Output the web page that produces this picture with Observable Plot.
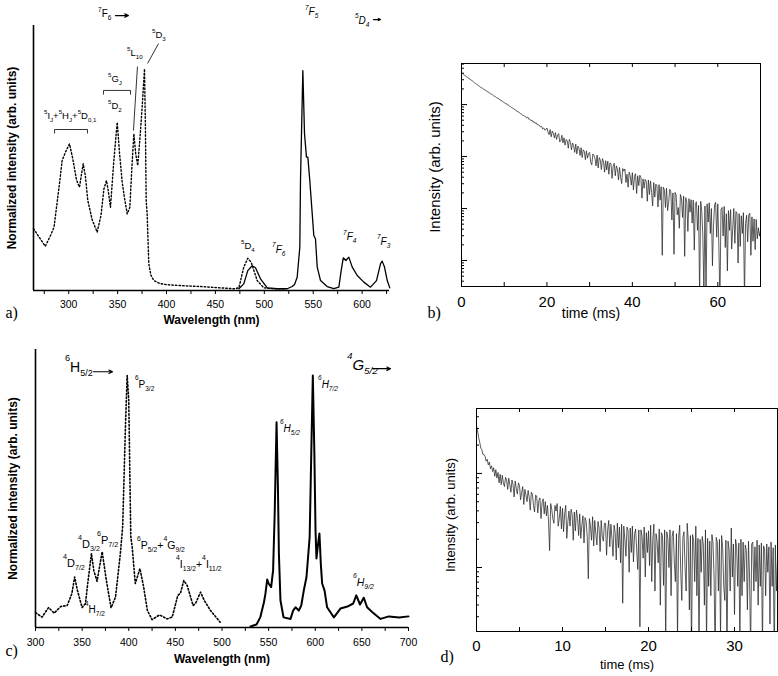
<!DOCTYPE html>
<html><head><meta charset="utf-8">
<script src="https://cdn.jsdelivr.net/npm/d3@7"></script>
<script src="https://cdn.jsdelivr.net/npm/@observablehq/plot@0.6"></script>
<style>
html,body{margin:0;padding:0;background:#fff;}
#wrap{position:relative;width:778px;height:676px;overflow:hidden;background:#fff;}
#wrap > svg{position:absolute;overflow:visible;}
</style></head><body><div id="wrap"></div>
<script>
// ---------- Panel a: Tb excitation (dotted) and emission (solid) ----------
const aExc = [[264,0.28],[270,0.24],[276,0.20],[281,0.245],[285,0.287],[291,0.50],[293.3,0.589],[297,0.63],[300.8,0.664],[304,0.60],[308,0.50],[311,0.468],[314.8,0.574],[317,0.52],[319.5,0.408],[324,0.32],[329.1,0.264],[333,0.34],[336,0.46],[338.6,0.498],[340.5,0.45],[342.7,0.377],[346,0.58],[349.6,0.762],[352,0.62],[354.7,0.49],[357,0.42],[359.8,0.347],[362.5,0.377],[364.5,0.55],[366.6,0.71],[368.5,0.62],[370.6,0.566],[373,0.70],[375.1,0.83],[377.5,1.004],[378.4,0.75],[379.2,0.408],[380.2,0.347],[381.9,0.121],[384,0.07],[387,0.045],[393,0.032],[400.7,0.026],[420,0.021],[434.8,0.018],[455,0.012],[468.8,0.008],[474,0.012],[479,0.106],[483.1,0.146],[486.6,0.128],[492.7,0.045],[499.5,0.012],[510,0.008],[520,0.008]];
const aEm = [[474,0.008],[479,0.03],[483.1,0.09],[487.6,0.112],[491,0.103],[496.1,0.053],[503,0.012],[513.2,0.008],[523.4,0.008],[528.5,0.018],[530.9,0.027],[533.6,0.06],[536.3,0.196],[537,0.498],[539.4,0.996],[541.1,0.71],[543.1,0.604],[544.5,0.604],[546.5,0.498],[549,0.347],[550.6,0.249],[552.3,0.234],[554.1,0.106],[557.5,0.045],[564.3,0.018],[571.1,0.008],[576.2,0.015],[578.6,0.09],[580.7,0.148],[583.4,0.136],[586.4,0.151],[589.9,0.106],[595,0.068],[601.7,0.038],[608.6,0.015],[614.7,0.045],[618.8,0.121],[620.5,0.133],[622.9,0.106],[625.7,0.045],[628.3,0.012]];
const aTicks = [275,300,325,350,375,400,425,450,475,500,525,550,575,600,625];
const aTickLabels = [300,350,400,450,500,550,600];

// ---------- Panel c: Sm excitation (dotted) and emission (solid) ----------
const cExc = [[300,0.059],[307,0.041],[314,0.079],[320,0.057],[327,0.083],[334,0.087],[339,0.134],[342,0.20],[345,0.146],[350,0.079],[353.6,0.095],[356,0.174],[360,0.293],[362.5,0.226],[366,0.183],[371.5,0.30],[376,0.186],[381,0.078],[385.8,0.12],[391,0.293],[393.5,0.40],[396.5,0.80],[398.3,0.997],[400,0.90],[401.2,0.60],[402.2,0.36],[403.7,0.318],[407,0.174],[412,0.233],[416,0.16],[420,0.067],[425,0.031],[433,0.05],[441,0.034],[446.6,0.041],[452.6,0.127],[455.5,0.136],[459,0.186],[462.7,0.166],[469,0.087],[471.6,0.095],[477,0.14],[481,0.107],[487.7,0.067],[498,0.021]];
const cEm = [[530.6,0.004],[537,0.012],[541,0.04],[545,0.10],[546.6,0.134],[548.5,0.19],[550,0.174],[552.7,0.16],[554.8,0.226],[556.5,0.45],[558.5,0.812],[560,0.55],[561,0.293],[562.7,0.107],[566,0.04],[573.5,0.034],[576.3,0.067],[578.8,0.08],[582.4,0.067],[585,0.087],[587.7,0.146],[590.6,0.20],[594,0.357],[595.8,0.70],[597.4,0.997],[599,0.70],[600.3,0.384],[601.3,0.273],[603,0.33],[604.5,0.372],[606,0.25],[607.4,0.174],[610,0.146],[612.7,0.08],[620,0.04],[627,0.075],[634.5,0.083],[640.7,0.095],[644,0.127],[648,0.091],[652,0.118],[655.6,0.08],[661,0.061],[670,0.034],[679,0.044],[690,0.04],[700,0.044]];
const cTicks = [300,325,350,375,400,425,450,475,500,525,550,575,600,625,650,675,700];
const cTickLabels = [300,350,400,450,500,550,600,650,700];

// ---------- Panel b: decay, log10 intensity every 0.25 ms ----------
const bStep = 0.25;
const bLog = [
4.61,4.60,4.58,4.56, 4.55,4.53,4.52,4.50, 4.49,4.47,4.46,4.44, 4.42,4.41,4.39,4.38, 4.36,4.35,4.33,4.32,
4.31,4.29,4.28,4.27, 4.25,4.24,4.23,4.21, 4.20,4.19,4.17,4.16, 4.15,4.13,4.12,4.11, 4.09,4.08,4.07,4.05,
4.04,4.02,4.02,3.99, 3.99,3.97,3.96,3.94, 3.93,3.92,3.90,3.89, 3.87,3.86,3.85,3.83, 3.82,3.80,3.79,3.78,
3.77,3.74,3.76,3.72, 3.72,3.69,3.70,3.66, 3.67,3.64,3.65,3.61, 3.61,3.60,3.57,3.58, 3.53,3.55,3.51,3.52,
3.55,3.47,3.42,3.52, 3.38,3.49,3.45,3.36, 3.46,3.33,3.41,3.44, 3.28,3.30,3.41,3.26, 3.36,3.22,3.33,3.31,
3.16,3.33,3.27,3.13, 3.26,3.21,3.08,3.24, 3.05,3.20,3.16,3.02, 3.17,2.98,3.13,3.10, 2.94,3.11,2.97,3.06,
3.08,2.89,2.84,3.05, 3.02,2.97,2.82,3.03, 2.78,2.98,2.93,2.75, 2.96,2.90,2.70,2.92, 2.74,2.91,2.66,2.88,
2.86,2.58,2.81,2.87, 2.63,2.82,2.76,2.55, 2.79,2.60,2.48,2.77, 2.72,2.76,2.50,2.66, 2.41,2.70,2.63,2.45,
2.69,2.36,2.62,2.67, 2.29,2.63,2.44,2.64, 2.60,2.20,2.57,2.39, 2.56,2.52,2.14,2.55, 2.27,2.53,2.31,2.05,
2.50,2.22,2.47,2.44, 2.03,2.46,2.16,2.42, 1.10,2.41,2.36,2.02, 2.39,1.96,2.12,2.37, 2.33,1.78,2.30,1.12,
2.31,2.26,1.88,2.02, 1.62,2.27,2.20,1.83, 2.24,1.08,2.21,2.12, 1.56,2.19,1.93,2.17, 1.72,2.16,1.20,2.10,
2.13,1.58,2.06,0.30, 2.14,1.95,1.48,0.35, 2.05,0.40,2.09,1.74, 2.11,1.52,2.00,0.90, 1.66,2.07,2.12,1.45,
2.09,1.30,0.20,1.98, 2.02,1.47,2.04,1.25, 1.90,0.80,1.96,1.58, 1.98,1.22,1.62,2.00, 1.33,1.94,1.91,0.95,
1.90,1.27,1.86,1.52, 1.92,0.25,1.71,1.87, 1.36,1.88,1.91,1.10, 1.84,1.37,1.80,1.21, 1.79,1.42,1.63,1.47,
1.58];
const bTimeTicks = [0,10,20,30,40,50,60,70];
const bTimeLabels = [0,20,40,60];
const bMajor = [10,100,1000,10000];
const bMinor = [4,5,6,7,8,9,20,30,40,50,60,70,80,90,200,300,400,500,600,700,800,900,2000,3000,4000,5000,6000,7000,8000,9000,20000,30000,40000,50000,60000];

// ---------- Panel d: decay, log10 intensity every 0.125 ms ----------
const dStep = 0.125;
const dLog = [
3.51,3.45,3.38,3.33,3.27,3.25,3.20,3.20,
3.18,3.13,3.15,3.09,3.12,3.05,3.08,3.02,
3.06,2.97,3.04,2.95,3.01,2.90,2.99,2.88,
2.98,2.90,2.86,2.96,2.93,2.83,2.95,2.88,
2.80,2.93,2.88,2.75,2.92,2.84,2.78,2.90,
2.87,2.72,2.80,2.86,2.67,2.83,2.77,2.70,
2.82,2.75,2.61,2.80,2.78,2.66,2.59,2.77,
2.76,2.58,2.71,2.74,2.52,2.69,2.73,2.57,
2.70,2.55,2.66,2.49,2.18,2.68,2.62,2.52,
2.47,2.66,2.60,2.68,2.44,2.52,2.65,2.41,
2.63,2.38,2.57,2.66,2.31,2.49,2.60,2.44,
2.62,2.56,2.29,2.59,2.39,2.61,2.52,2.34,
2.57,2.31,2.45,2.55,2.26,2.53,2.49,2.33,
1.88,2.52,2.44,2.29,2.54,2.23,2.50,2.36,
2.24,2.49,2.42,2.17,2.50,2.33,2.28,2.47,
2.47,2.13,2.40,2.50,2.22,2.46,2.31,2.12,
2.45,2.37,2.08,2.47,2.21,2.43,2.05,2.46,
1.62,2.44,2.30,2.12,2.43,2.39,1.95,2.42,
2.16,2.44,2.06,2.35,2.41,2.19,1.98,2.40,
1.37,2.40,2.33,2.10,2.43,1.90,2.37,2.16,
2.39,2.02,2.45,1.85,2.30,2.46,1.75,2.36,
2.28,2.05,2.41,1.60,2.37,2.34,1.81,2.40,
1.20,2.38,2.31,2.00,2.40,1.70,2.33,2.39,
2.06,1.85,2.36,1.25,2.31,2.45,1.95,1.65,
2.32,2.38,2.00,1.75,2.47,2.28,1.55,2.34,
1.10,2.35,2.29,1.85,2.44,1.70,2.31,1.15,
2.30,1.95,2.33,2.24,1.60,2.40,1.20,2.31,
1.80,2.28,1.70,2.35,2.26,1.90,1.00,2.32,
2.27,1.75,2.30,1.25,2.34,2.21,1.80,1.65,
2.29,1.05,2.28,2.19,1.75,2.42,1.90,2.25,
1.50,2.30,2.22,1.80,2.26,1.20,2.30,1.70,
2.27,1.85,2.24,2.18,1.55,2.28,1.90,1.10,
2.25,2.27,1.75,2.22,1.85,2.29,1.60,2.24,
1.80,2.26,1.15,2.23,2.20,1.70,2.25,1.95,
2.22,1.40,2.27,1.80,2.21,1.05,2.24,1.75,
2.05];
const dTimeTicks = [0,5,10,15,20,25,30,35];
const dTimeLabels = [0,10,20,30];
const dMajor = [100,1000];
const dMinor = [30,40,50,60,70,80,90,200,300,400,500,600,700,800,900,2000,3000,4000];

// ---------- annotations (data coordinates) ----------
const aNotes = [
  {text:"{7}F[6]", x:330.5, y:1.236, size:10},
  {text:"{7}F[5]", x:542.1, y:1.245, size:10, italic:true},
  {text:"{5}D[4]", x:593.2, y:1.205, size:10, italic:true},
  {text:"{5}D[3]", x:385.7, y:1.141, size:9.5},
  {text:"{5}L[10]", x:360.1, y:1.06, size:9.5},
  {text:"{5}G[J]", x:340.7, y:0.942, size:9.5},
  {text:"{5}D[2]", x:340.7, y:0.82, size:9.5},
  {text:"{5}I[J]+{5}H[J]+{5}D[0,1]", x:275.2, y:0.774, size:9.5},
  {text:"{5}D[4]", x:476.7, y:0.186, size:9.5},
  {text:"{7}F[6]", x:508.4, y:0.168, size:10, italic:true},
  {text:"{7}F[4]", x:581, y:0.226, size:10, italic:true},
  {text:"{7}F[3]", x:615.7, y:0.204, size:10, italic:true}
];
const aLinks = [
  {x1:391.8,y1:1.118,x2:380.6,y2:1.028},
  {x1:370.3,y1:1.014,x2:366.2,y2:0.724},
  {x1:335.6,y1:0.906,x2:363.2,y2:0.906},{x1:335.6,y1:0.906,x2:335.6,y2:0.887},{x1:363.2,y1:0.906,x2:363.2,y2:0.887},
  {x1:285.5,y1:0.729,x2:319.2,y2:0.729},{x1:285.5,y1:0.729,x2:285.5,y2:0.711},{x1:319.2,y1:0.729,x2:319.2,y2:0.711}
];
const aArrows = [
  {x1:347.8,y1:1.245,x2:361.1,y2:1.245},
  {x1:611.6,y1:1.227,x2:618.8,y2:1.227}
];
const cNotes = [
  {text:"{6}H[5/2]", x:332.2, y:1.009, size:14},
  {text:"{6}P[3/2]", x:407.2, y:0.946, size:10},
  {text:"{6}H[5/2]", x:562.7, y:0.772, size:10, italic:true},
  {text:"{6}H[7/2]", x:603.5, y:0.946, size:10, italic:true},
  {text:"{4}G[5/2]", x:634.6, y:1.017, size:15, italic:true},
  {text:"{4}D[7/2]", x:330, y:0.237, size:11},
  {text:"{4}D[3/2]", x:346.1, y:0.313, size:11},
  {text:"{6}P[7/2]", x:366.5, y:0.328, size:11},
  {text:"{4}H[7/2]", x:353.6, y:0.055, size:10},
  {text:"{6}P[5/2]+{4}G[9/2]", x:409.4, y:0.309, size:10.5},
  {text:"{4}I[13/2]+{4}I[11/2]", x:451.2, y:0.233, size:10.5},
  {text:"{6}H[9/2]", x:641, y:0.162, size:10.5, italic:true}
];
const cArrows = [
  {x1:362.2,y1:1.012,x2:382.6,y2:1.012},
  {x1:661.5,y1:1.024,x2:680.7,y2:1.024}
];

// ---------- helpers ----------
const SANS = "'Liberation Sans', Arial, sans-serif";
const SERIF = "'Liberation Serif', 'Times New Roman', serif";
const baseStyle = {fontFamily: SANS, background: "transparent", overflow: "visible", color: "#000"};
const T = d => d;
const DOTS = "1.5,2.1";

function parseLabel(str) {
  const re = /\{([^}]*)\}|\[([^\]]*)\]|([^{\[]+)/g;
  const out = []; let m;
  while ((m = re.exec(str))) out.push(m[1] != null ? [m[1], "sup"] : m[2] != null ? [m[2], "sub"] : [m[3], ""]);
  return out;
}
function addNotes(svg, notes, supShift, subShift) {
  const sx = svg.scale("x"), sy = svg.scale("y");
  const g = d3.select(svg).append("g").attr("font-family", SANS).attr("fill", "#000").attr("text-anchor", "start");
  for (const n of notes) {
    const t = g.append("text").attr("x", sx.apply(n.x)).attr("y", sy.apply(n.y))
      .attr("text-anchor", "start")
      .attr("font-size", n.size).attr("font-style", n.italic ? "italic" : "normal");
    let cur = 0;
    for (const [s, k] of parseLabel(n.text)) {
      const off = k === "sup" ? -supShift * n.size : k === "sub" ? subShift * n.size : 0;
      t.append("tspan").attr("dy", off - cur).attr("font-size", k ? n.size * 0.65 : n.size).text(s);
      cur = off;
    }
  }
}
function place(svg, left, top) {
  svg.style.left = left + "px"; svg.style.top = top + "px";
  document.getElementById("wrap").appendChild(svg);
}

// ---------- panel a ----------
const plotA = Plot.plot({
  width: 395, height: 335, marginLeft: 33, marginTop: 25, marginRight: 6, marginBottom: 45,
  style: baseStyle,
  x: {domain: [264, 628]},
  y: {domain: [0, 1.2], axis: null},
  marks: [
    Plot.line(aExc, {x: d => d[0], y: d => d[1], stroke: "#000", strokeWidth: 1.4, strokeDasharray: DOTS}),
    Plot.line(aEm, {x: d => d[0], y: d => d[1], stroke: "#000", strokeWidth: 1.3}),
    Plot.ruleY([0], {strokeWidth: 1.6}),
    Plot.ruleX([264], {strokeWidth: 1.6}),
    Plot.axisX({ticks: aTicks, tickSize: 4, tickPadding: 6, tickFormat: d => aTickLabels.includes(d) ? String(d) : "", fontSize: 10.5, label: null}),
    Plot.text(["Wavelength (nm)"], {text: T, frameAnchor: "bottom", dy: 33, fontWeight: "bold", fontSize: 12}),
    Plot.text(["Normalized intensity (arb. units)"], {text: T, frameAnchor: "left", textAnchor: "middle", dx: -21, rotate: -90, fontWeight: "bold", fontSize: 12}),
    Plot.text(["a)"], {text: T, frameAnchor: "bottom-left", dx: -28, dy: 27, textAnchor: "start", fontFamily: SERIF, fontSize: 16}),
    Plot.link(aLinks, {x1: "x1", y1: "y1", x2: "x2", y2: "y2", stroke: "#000", strokeWidth: 0.8}),
    Plot.arrow(aArrows, {x1: "x1", y1: "y1", x2: "x2", y2: "y2", stroke: "#000", strokeWidth: 1.2, headLength: 5, headAngle: 50})
  ]
});
addNotes(plotA, aNotes, 0.55, 0.3);
place(plotA, 0, 0);

// ---------- panel c ----------
const plotC = Plot.plot({
  width: 415, height: 336, marginLeft: 35, marginTop: 9, marginRight: 7, marginBottom: 49,
  style: baseStyle,
  x: {domain: [300, 700]},
  y: {domain: [0, 1.1], axis: null},
  marks: [
    Plot.line(cExc, {x: d => d[0], y: d => d[1], stroke: "#000", strokeWidth: 1.6, strokeDasharray: DOTS}),
    Plot.line(cEm, {x: d => d[0], y: d => d[1], stroke: "#000", strokeWidth: 2}),
    Plot.ruleY([0], {strokeWidth: 1.6}),
    Plot.ruleX([300], {strokeWidth: 1.6}),
    Plot.axisX({ticks: cTicks, tickSize: 4, tickPadding: 7, tickFormat: d => cTickLabels.includes(d) ? String(d) : "", fontSize: 10.5, label: null}),
    Plot.text(["Wavelength (nm)"], {text: T, frameAnchor: "bottom", dy: 35, fontWeight: "bold", fontSize: 12}),
    Plot.text(["Normalized intensity (arb. units)"], {text: T, frameAnchor: "left", textAnchor: "middle", dx: -22, rotate: -90, fontWeight: "bold", fontSize: 12}),
    Plot.text(["c)"], {text: T, frameAnchor: "bottom-left", dx: -30, dy: 28, textAnchor: "start", fontFamily: SERIF, fontSize: 16}),
    Plot.arrow(cArrows, {x1: "x1", y1: "y1", x2: "x2", y2: "y2", stroke: "#000", strokeWidth: 1.2, headLength: 5, headAngle: 50})
  ]
});
addNotes(plotC, cNotes, 0.75, 0.3);
place(plotC, 0, 340);

// ---------- panel b ----------
const bW = 398, bH = 330, bML = 81, bMR = 18, bMT = 63, bMB = 44;
const bFW = bW - bML - bMR, bFH = bH - bMT - bMB;
const plotB = Plot.plot({
  width: bW, height: bH, marginLeft: bML, marginRight: bMR, marginTop: bMT, marginBottom: bMB,
  style: baseStyle,
  x: {domain: [0, 70]},
  y: {type: "log", domain: [10 ** 0.5, 10 ** 4.79], axis: null},
  marks: [
    Plot.line(bLog, {x: (d, i) => i * bStep, y: d => 10 ** d, stroke: "#262626", strokeWidth: 0.75, clip: true}),
    Plot.frame({stroke: "#000", strokeWidth: 1}),
    Plot.tickX(bTimeTicks, {x: T, insetTop: bFH - 4}),
    Plot.tickX(bTimeTicks, {x: T, insetBottom: bFH - 4}),
    Plot.tickY(bMajor, {y: T, insetRight: bFW - 6}),
    Plot.tickY(bMinor, {y: T, insetRight: bFW - 3}),
    Plot.axisX({ticks: bTimeLabels, tickSize: 0, tickPadding: 10, fontSize: 15, label: null}),
    Plot.text(["time (ms)"], {text: T, frameAnchor: "bottom", dx: -20, dy: 31, fontSize: 14}),
    Plot.text(["Intensity (arb. units)"], {text: T, frameAnchor: "left", textAnchor: "middle", dx: -26, dy: -8, rotate: -90, fontSize: 15}),
    Plot.text(["b)"], {text: T, frameAnchor: "bottom-left", dx: -34, dy: 31, textAnchor: "start", fontFamily: SERIF, fontSize: 16})
  ]
});
place(plotB, 380, 0);

// ---------- panel d ----------
const dW = 398, dH = 336, dML = 96, dMR = 1, dMT = 68, dMB = 45;
const dFW = dW - dML - dMR, dFH = dH - dMT - dMB;
const plotD = Plot.plot({
  width: dW, height: dH, marginLeft: dML, marginRight: dMR, marginTop: dMT, marginBottom: dMB,
  style: baseStyle,
  x: {domain: [0, 35]},
  y: {type: "log", domain: [10 ** 1.32, 10 ** 3.69], axis: null},
  marks: [
    Plot.line(dLog, {x: (d, i) => i * dStep, y: d => 10 ** d, stroke: "#262626", strokeWidth: 0.75, clip: true}),
    Plot.frame({stroke: "#000", strokeWidth: 1}),
    Plot.tickX(dTimeTicks, {x: T, insetTop: dFH - 4}),
    Plot.tickX(dTimeTicks, {x: T, insetBottom: dFH - 4}),
    Plot.tickY(dMajor, {y: T, insetRight: dFW - 6}),
    Plot.tickY(dMinor, {y: T, insetRight: dFW - 3}),
    Plot.axisX({ticks: dTimeLabels, tickSize: 0, tickPadding: 9, fontSize: 15, label: null}),
    Plot.text(["time (ms)"], {text: T, frameAnchor: "bottom", dy: 37, fontSize: 13}),
    Plot.text(["Intensity (arb. units)"], {text: T, frameAnchor: "left", textAnchor: "middle", dx: -26, dy: -5, rotate: -90, fontSize: 13}),
    Plot.text(["d)"], {text: T, frameAnchor: "bottom-left", dx: -36, dy: 30, textAnchor: "start", fontFamily: SERIF, fontSize: 16})
  ]
});
place(plotD, 380, 340);
</script>
</body></html>
